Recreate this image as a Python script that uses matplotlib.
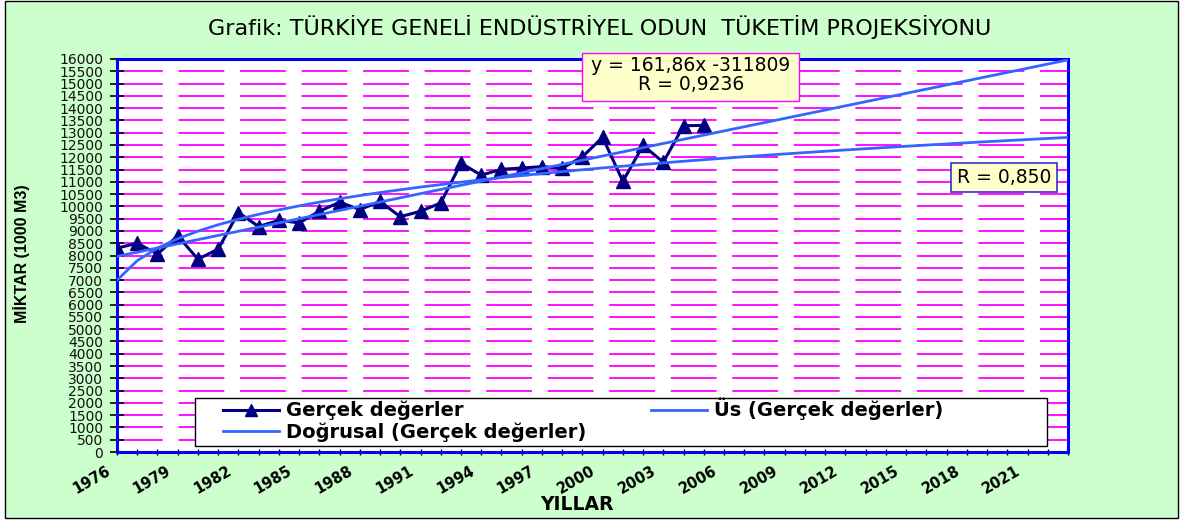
import numpy as np
import matplotlib.pyplot as plt
import matplotlib.transforms as mtransforms
from matplotlib.patches import Rectangle
from matplotlib.lines import Line2D

plt.rcParams['lines.scale_dashes'] = False

# gerçek tüketim değerleri (1000 m3)
years = np.arange(1976, 2006)
values = [8300, 8500, 8060, 8800, 7850, 8260, 9750, 9180, 9430, 9330,
          9800, 10170, 9870, 10200, 9580, 9800, 10140, 11760, 11270, 11510,
          11560, 11620, 11550, 12020, 12810, 11020, 12480, 11800, 13280, 13300]
proj_years = np.arange(1976, 2024)
label_years = np.arange(1976, 2022, 3)

title = "Grafik: TÜRKİYE GENELİ ENDÜSTRİYEL ODUN  TÜKETİM PROJEKSİYONU"
lin_text = "y = 161,86x -311809\nR = 0,9236"
pow_text = "R = 0,850"
legend_labels = ['Gerçek değerler', 'Doğrusal (Gerçek değerler)', 'Üs (Gerçek değerler)']

W, H = 1182, 520


def fx(px):
    return px / W


def fy(py):
    return 1 - py / H


# trend çizgileri (Excel gibi x = 1, 2, 3 ...)
idx = np.arange(1, len(values) + 1)
proj_idx = np.arange(1, len(proj_years) + 1)
lin = np.polyfit(idx, values, 1)
lin_y = np.polyval(lin, proj_idx)
pw = np.polyfit(np.log(idx), np.log(values), 1)
pow_y = np.exp(pw[1]) * proj_idx ** pw[0]

fig = plt.figure(figsize=(W / 100, H / 100), dpi=100)
fig.patch.set_facecolor('white')
fig.patches.append(Rectangle((fx(5), fy(518)), fx(1178) - fx(5), fy(1) - fy(518),
                             transform=fig.transFigure, facecolor='#CCFFCC',
                             edgecolor='black', lw=1, zorder=-10))

ax = fig.add_axes([fx(117), fy(452), fx(1068) - fx(117), fy(59) - fy(452)])
ax.set_facecolor('white')
for s in ax.spines.values():
    s.set_color('#0000FF')
    s.set_linewidth(2.2)

ax.set_xlim(1976, 2023)
ax.set_ylim(0, 16000)
ax.set_yticks(range(0, 16001, 500))
ax.set_xticks(proj_years)
ax.set_xticklabels([str(y) if y in label_years else '' for y in proj_years],
                   rotation=30, ha='right', va='top', rotation_mode='anchor',
                   fontweight='bold', fontsize=10.5)
ax.tick_params(axis='y', direction='inout', length=10, width=1.2, pad=5, labelsize=10,
               labelcolor='#111111')
ax.tick_params(axis='x', direction='inout', length=4, width=1, pad=6)
shift = mtransforms.ScaledTranslation(-0.12, 0, fig.dpi_scale_trans)
for lab in ax.get_xticklabels():
    lab.set_transform(lab.get_transform() + shift)

for v in range(500, 16000, 500):
    ax.axhline(v, color='#FF00FF', lw=1.3, dashes=(33, 11.3), zorder=1)

ax.plot(years, values, color='#000080', lw=2.2, marker='^', ms=9.5, zorder=3)
ax.plot(proj_years, lin_y, color='#3366FF', lw=2, zorder=4)
ax.plot(proj_years, pow_y, color='#3366FF', lw=2, zorder=4)

fig.text(fx(600), fy(27), title, ha='center', va='center', fontsize=16)
fig.text(fx(22), fy(254), 'MİKTAR (1000 M3)', rotation=90, ha='center', va='center',
         fontweight='bold', fontsize=11.5, family=['Liberation Sans', 'DejaVu Sans'])
fig.text(fx(577), fy(505), 'YILLAR', ha='center', va='center',
         fontweight='bold', fontsize=13.5)

# lejant kutusu
ax.add_patch(Rectangle((fx(195), fy(446)), fx(1047) - fx(195), fy(398) - fy(446),
                       transform=fig.transFigure, facecolor='white', edgecolor='black',
                       lw=1, zorder=5, clip_on=False))
handles = [Line2D([], [], color='#000080', lw=2.2, marker='^', ms=8),
           Line2D([], [], color='#3366FF', lw=2),
           Line2D([], [], color='#3366FF', lw=2)]
leg = ax.legend(handles, legend_labels, ncol=2, frameon=False, loc='upper left',
                bbox_to_anchor=(fx(223), fy(398)), bbox_transform=fig.transFigure,
                borderpad=0, borderaxespad=0, handlelength=2.9, handletextpad=0.35,
                columnspacing=3.3, labelspacing=0.12,
                prop={'weight': 'bold', 'size': 14})
leg.set_zorder(6)

# trend denklemi kutuları
ax.add_patch(Rectangle((fx(582), fy(101)), fx(799) - fx(582), fy(53) - fy(101),
                       transform=fig.transFigure, facecolor='#FFFFCC', edgecolor='#FF00FF',
                       lw=1, zorder=7, clip_on=False))
fig.text(fx(691), fy(75), lin_text, ha='center', va='center', fontsize=13.5,
         linespacing=0.95, zorder=8)
ax.add_patch(Rectangle((fx(951), fy(192)), fx(1057) - fx(951), fy(163) - fy(192),
                       transform=fig.transFigure, facecolor='#FFFFCC', edgecolor='#3333CC',
                       lw=1.2, zorder=7, clip_on=False))
fig.text(fx(1004), fy(177.5), pow_text, ha='center', va='center', fontsize=13.5, zorder=8)

fig.savefig('out.png', dpi=100)
